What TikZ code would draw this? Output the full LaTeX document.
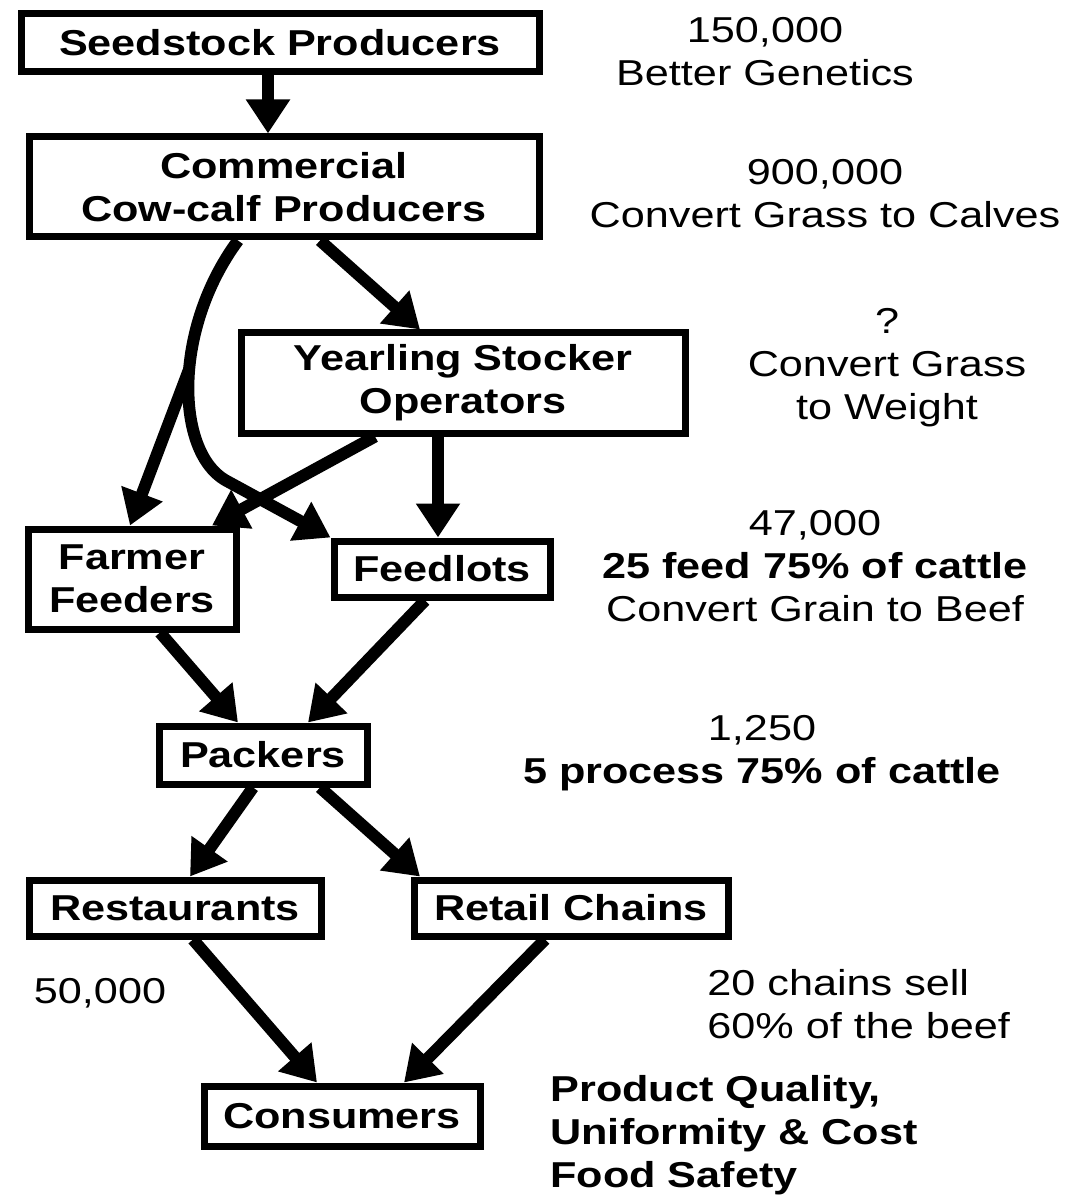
\documentclass[tikz,border=0pt]{standalone}
\usepackage{fontspec}
\setmainfont{Liberation Sans}[FakeStretch=1.2]
\usetikzlibrary{arrows.meta}

\begin{document}
\begin{tikzpicture}[x=0.5pt,y=-0.5pt,
  font=\fontsize{18}{21.5}\selectfont,
  stage/.style={draw,line width=3.5pt,inner sep=0pt,align=center,
   font=\fontsize{18}{21.5}\selectfont\bfseries},
  note/.style={inner sep=0pt,align=center},
  flow/.style={line width=6pt,-{Triangle[length=17pt,width=21pt]}}]

 \useasboundingbox (0,0) rectangle (1072,1197);

 % the chain, top to bottom
 \node [stage, minimum width=259pt, minimum height=29pt] (seed) at (280,43){Seedstock Producers};
 \node [stage, minimum width=255pt, minimum height=50pt] (comm) at (284,187){Commercial\\Cow-calf Producers};
 \node [stage, minimum width=222pt, minimum height=50pt] (year) at (463,383){Yearling Stocker\\Operators};
 \node [stage, minimum width=104pt, minimum height=50pt] (farmer) at (132,579){Farmer\\Feeders};
 \node [stage, minimum width=108pt, minimum height=28pt] (feedlots) at (442,569){Feedlots};
 \node [stage, minimum width=104pt, minimum height=29pt] (packers) at (263,755){Packers};
 \node [stage, minimum width=146pt, minimum height=28pt] (rest) at (175,908){Restaurants};
 \node [stage, minimum width=157pt, minimum height=28pt] (retail) at (571,908){Retail Chains};
 \node [stage, minimum width=138pt, minimum height=30pt] (cons) at (342,1116){Consumers};

 % numbers and roles on the side
 \node [note] (n150) at (765,52){150,000\\Better Genetics};
 \node [note] (n900) at (825,194){900,000\\Convert Grass to Calves};
 \node [note] (nq) at (887,368){?\\Convert Grass\\to Weight};
 \node [note] (n47) at (815,566){47,000\\\textbf{25 feed 75\% of cattle}\\Convert Grain to Beef};
 \node [note] (n1250) at (762,753){1,250\\\textbf{5 process 75\% of cattle}};
 \node [note] (n50) at (100,993){50,000};
 \node [note, anchor=west, align=left] (nchains) at (707,1004){20 chains sell\\60\% of the beef};
 \node [note, anchor=west, align=left, font=\fontsize{18}{21.5}\selectfont\bfseries] (nprod) at (550,1135){Product Quality,\\Uniformity \& Cost\\Food Safety};

 \draw[flow] (268,0 |- seed.south) -- (268,0 |- comm.north);
 \draw[flow] (320,0 |- comm.south) -- (420,0 |- year.north);
 \draw[flow] (238,0 |- comm.south) .. controls (172,330) and (176,451) .. (225,480)
  coordinate[pos=0.45] (fork) -- (feedlots.north west);
 \draw[flow] (fork) -- (130,0 |- farmer.north);
 \draw[flow] (375,0 |- year.south) -- (212,0 |- farmer.north);
 \draw[flow] (438,0 |- year.south) -- (438,0 |- feedlots.north);
 \draw[flow] (160,0 |- farmer.south) -- (238,0 |- packers.north);
 \draw[flow] (425,0 |- feedlots.south) -- (308,0 |- packers.north);
 \draw[flow] (253,0 |- packers.south) -- (190,0 |- rest.north);
 \draw[flow] (320,0 |- packers.south) -- (420,0 |- retail.north);
 \draw[flow] (193,0 |- rest.south) -- (317,0 |- cons.north);
 \draw[flow] (545,0 |- retail.south) -- (404,0 |- cons.north);
\end{tikzpicture}
\end{document}
